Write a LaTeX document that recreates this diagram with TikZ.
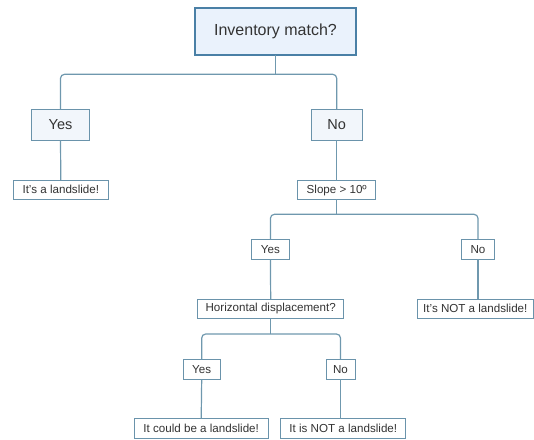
\documentclass[tikz,border=0pt]{standalone}
\usepackage{fontspec}
\setmainfont{Liberation Sans}
\definecolor{linec}{HTML}{6F98AE}
\definecolor{boxc}{HTML}{6A93AB}
\definecolor{topc}{HTML}{4A80A6}
\definecolor{topfill}{HTML}{EAF2FC}
\definecolor{midfill}{HTML}{F2F6FB}
\definecolor{txt}{HTML}{333333}
\begin{document}
\begin{tikzpicture}[x=1pt,y=-1pt,
  base/.style={draw=boxc,line width=1pt,inner sep=0pt,outer sep=0pt,text=txt,anchor=center},
  topbox/.style={base,draw=topc,line width=2.5pt,fill=topfill,font=\fontsize{16}{19}\selectfont},
  midbox/.style={base,fill=midfill,font=\fontsize{14.5}{17}\selectfont},
  smallbox/.style={base,fill=white,font=\fontsize{11.6}{13}\selectfont},
  conn/.style={draw=linec,line width=1.2pt,rounded corners=4pt}]
\useasboundingbox (0,0) rectangle (534,439);
\node[topbox,minimum width=161pt,minimum height=47pt] (top) at (275.5,31.5) {Inventory match?};
\node[midbox,minimum width=57.6pt,minimum height=30.7pt] (yes1) at (60.5,124.7) {Yes};
\node[midbox,minimum width=51.3pt,minimum height=31pt] (no1) at (336.7,124.7) {No};
\node[smallbox,minimum width=95pt,minimum height=19.3pt] (land1) at (60.8,189.7) {It's a landslide!};
\node[smallbox,minimum width=78pt,minimum height=18.6pt] (slope) at (336.7,190) {Slope > 10º};
\node[smallbox,minimum width=37.3pt,minimum height=20pt] (yes2) at (270.4,249.3) {Yes};
\node[smallbox,minimum width=32.6pt,minimum height=20pt] (no2) at (478,249.3) {No};
\node[smallbox,minimum width=146pt,minimum height=19.3pt] (hd) at (270.7,308.7) {Horizontal displacement?};
\node[smallbox,minimum width=116pt,minimum height=19pt] (not1) at (475.3,308.8) {It's NOT a landslide!};
\node[smallbox,minimum width=36.7pt,minimum height=20pt] (yes3) at (201.7,369.3) {Yes};
\node[smallbox,minimum width=29pt,minimum height=20pt] (no3) at (340.5,369.3) {No};
\node[smallbox,minimum width=134.3pt,minimum height=20pt] (could) at (201.2,428.7) {It could be a landslide!};
\node[smallbox,minimum width=124.7pt,minimum height=19.7pt] (not2) at (343.3,428.8) {It is NOT a landslide!};
% junctions
\coordinate (j1) at (275.5,74.3);
\coordinate (j2) at (336.7,214.3);
\coordinate (j3) at (270.7,334);
\draw[conn] (top.south) -- (j1);
\draw[conn] (yes1.north) |- (j1) -| (no1.north);
\draw[conn] (yes1.south) -- (land1.north);
\draw[conn] (no1.south) -- (slope.north);
\draw[conn] (slope.south) -- (j2);
\draw[conn] (yes2.north) |- (j2) -| (no2.north);
\draw[conn] (yes2.south) -- (hd.north);
\draw[conn] (no2.south) -- (no2.south |- not1.north);
\draw[conn] (hd.south) -- (j3);
\draw[conn] (yes3.north) |- (j3) -| (no3.north);
\draw[conn] (yes3.south) -- (could.north);
\draw[conn] (no3.south) -- (no3.south |- not2.north);
\end{tikzpicture}
\end{document}
